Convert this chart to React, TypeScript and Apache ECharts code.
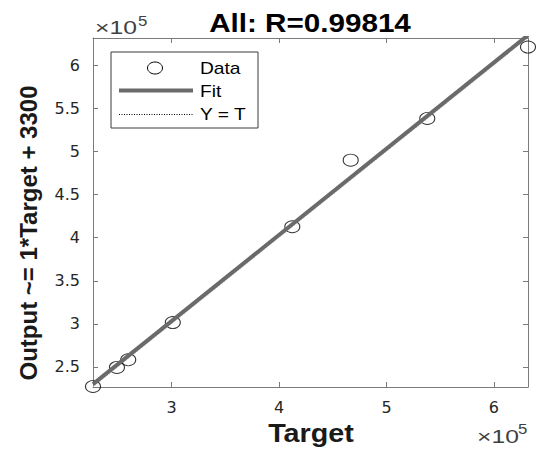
import React, { useEffect, useRef } from "react";
import * as echarts from "echarts";

// Values in raw units (×10^5 shown on axes)
const TARGET = [226700, 249000, 259500, 301000, 412300, 466700, 538000, 631800];
const OUTPUT = [227300, 249400, 258300, 301500, 412700, 490000, 538400, 621300];
const FIT_SLOPE = 1;
const FIT_OFFSET = 3300;
const TITLE = "All: R=0.99814";
const X_NAME = "Target";
const Y_NAME = "Output ~= 1*Target + 3300";
const LEGEND_LABELS = ["Data", "Fit", "Y = T"];

const FONT = "'Liberation Sans', Arial, Helvetica, sans-serif";
const TICK_FONT = "'DejaVu Sans', sans-serif";
const AXIS_COLOR = "#7a7a7a";
const TEXT_COLOR = "#262626";
const FIT_COLOR = "#6a6a6a";

export default function App() {
  const ref = useRef<HTMLDivElement>(null);

  useEffect(() => {
    if (!ref.current) return;
    const chart = echarts.init(ref.current, undefined, { renderer: "svg" });

    const minV = Math.min(...TARGET, ...OUTPUT);
    const maxV = Math.max(...TARGET, ...OUTPUT);
    const minT = Math.min(...TARGET);
    const maxT = Math.max(...TARGET);

    const fmt = (v: number) => String(+(v / 1e5).toFixed(1));

    const baseAxis = {
      type: "value" as const,
      min: minV,
      max: maxV,
      splitLine: { show: false },
      axisLine: { show: true, onZero: false, lineStyle: { color: AXIS_COLOR, width: 1 } },
      axisTick: { show: true, inside: true, length: 5, lineStyle: { color: AXIS_COLOR, width: 1 } },
    };

    const option: any = {
      animation: false,
      backgroundColor: "#ffffff",
      grid: { left: 93, right: 22, top: 38, bottom: 71, containLabel: false, outerBoundsMode: "none" },
      xAxis: [
        {
          ...baseAxis,
          position: "bottom",
          splitNumber: 4,
          axisLabel: {
            show: true,
            formatter: fmt,
            showMinLabel: false,
            showMaxLabel: false,
            fontFamily: TICK_FONT,
            fontSize: 16,
            color: TEXT_COLOR,
            margin: 12,
          },
        },
        {
          ...baseAxis,
          position: "top",
          splitNumber: 4,
          axisLabel: { show: false },
        },
      ],
      yAxis: [
        {
          ...baseAxis,
          position: "left",
          splitNumber: 8,
          axisLabel: {
            show: true,
            formatter: fmt,
            showMinLabel: false,
            showMaxLabel: false,
            fontFamily: TICK_FONT,
            fontSize: 16,
            color: TEXT_COLOR,
            margin: 13,
          },
        },
        {
          ...baseAxis,
          position: "right",
          splitNumber: 8,
          axisLabel: { show: false },
        },
      ],
      series: [
        {
          name: "Y = T",
          type: "line",
          xAxisIndex: 0,
          yAxisIndex: 0,
          data: [
            [minV, minV],
            [maxV, maxV],
          ],
          showSymbol: false,
          symbol: "none",
          lineStyle: { color: "#c4c4c4", width: 1, type: [1, 2] },
          z: 1,
          silent: true,
        },
        {
          name: "Data",
          type: "scatter",
          xAxisIndex: 0,
          yAxisIndex: 0,
          data: TARGET.map((t, i) => [t, OUTPUT[i]]),
          symbol: "circle",
          symbolSize: [15, 12],
          itemStyle: { color: "rgba(0,0,0,0)", borderColor: "#000", borderWidth: 1 },
          z: 2,
          clip: false,
        },
        {
          name: "Fit",
          type: "line",
          xAxisIndex: 0,
          yAxisIndex: 0,
          data: [
            [minT, FIT_SLOPE * minT + FIT_OFFSET],
            [maxT, FIT_SLOPE * maxT + FIT_OFFSET],
          ],
          showSymbol: false,
          symbol: "none",
          clip: true,
          lineStyle: { color: FIT_COLOR, width: 4 },
          z: 3,
          silent: true,
        },
      ],
      graphic: [
        {
          type: "text",
          x: 310,
          y: 23,
          scaleX: 1.14,
          style: {
            text: TITLE,
            font: `bold 26px ${FONT}`,
            fill: "#000",
            align: "center",
            verticalAlign: "middle",
          },
        },
        {
          type: "text",
          x: 311,
          y: 434,
          scaleX: 1.15,
          style: {
            text: X_NAME,
            font: `bold 25px ${FONT}`,
            fill: "#1a1a1a",
            align: "center",
            verticalAlign: "middle",
          },
        },
        {
          type: "text",
          x: 28,
          y: 233,
          rotation: Math.PI / 2,
          style: {
            text: Y_NAME,
            font: `bold 24px ${FONT}`,
            fill: "#1a1a1a",
            align: "center",
            verticalAlign: "middle",
          },
        },
        // ×10^5 top-left
        {
          type: "text",
          x: 95,
          y: 28,
          scaleX: 1.3,
          style: { text: "×10", font: `19px ${FONT}`, fill: "#404040", align: "left", verticalAlign: "middle" },
        },
        {
          type: "text",
          x: 138,
          y: 21,
          scaleX: 1.2,
          style: { text: "5", font: `14px ${FONT}`, fill: "#404040", align: "left", verticalAlign: "middle" },
        },
        // ×10^5 bottom-right
        {
          type: "text",
          x: 477,
          y: 437,
          scaleX: 1.3,
          style: { text: "×10", font: `19px ${FONT}`, fill: "#404040", align: "left", verticalAlign: "middle" },
        },
        {
          type: "text",
          x: 518,
          y: 429,
          scaleX: 1.2,
          style: { text: "5", font: `14px ${FONT}`, fill: "#404040", align: "left", verticalAlign: "middle" },
        },
        // Legend
        {
          type: "rect",
          shape: { x: 111, y: 52, width: 147, height: 76 },
          style: { fill: "#ffffff", stroke: "#3a3a3a", lineWidth: 1 },
          z: 10,
        },
        {
          type: "ellipse",
          shape: { cx: 155, cy: 68, rx: 7.5, ry: 6 },
          style: { fill: "none", stroke: "#000", lineWidth: 1 },
          z: 11,
        },
        {
          type: "line",
          shape: { x1: 119, y1: 90.5, x2: 193, y2: 90.5 },
          style: { stroke: FIT_COLOR, lineWidth: 4 },
          z: 11,
        },
        {
          type: "line",
          shape: { x1: 119, y1: 114.5, x2: 193, y2: 114.5 },
          style: { stroke: "#000", lineWidth: 1, lineDash: [1, 1.5] },
          z: 11,
        },
        ...LEGEND_LABELS.map((label, i) => ({
          type: "text",
          x: 200,
          y: 69 + i * 23,
          scaleX: 1.2,
          z: 11,
          style: {
            text: label,
            font: `16px ${FONT}`,
            fill: "#000",
            align: "left",
            verticalAlign: "middle",
          },
        })),
      ],
    };

    chart.setOption(option);
    return () => chart.dispose();
  }, []);

  return (
    <div
      ref={ref}
      style={{ position: "absolute", left: 0, top: 0, width: 550, height: 458 }}
    />
  );
}
